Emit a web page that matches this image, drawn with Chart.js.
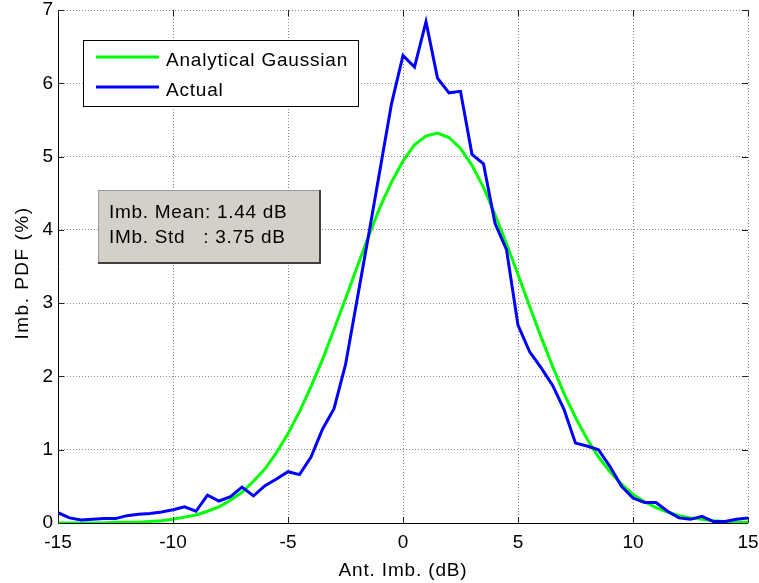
<!DOCTYPE html>
<html>
<head>
<meta charset="utf-8">
<script src="https://cdn.jsdelivr.net/npm/chart.js"></script>
<style>
  html, body { margin: 0; padding: 0; background: #fff; }
  canvas { display: block; }
</style>
</head>
<body>
<canvas id="pdfChart" width="759" height="583"></canvas>
<script>
const FONT = '"Liberation Sans", Arial, Helvetica, sans-serif';

const binCenters = [
  -15, -14.5, -14, -13.5, -13, -12.5, -12, -11.5, -11, -10.5,
  -10, -9.5, -9, -8.5, -8, -7.5, -7, -6.5, -6, -5.5,
  -5, -4.5, -4, -3.5, -3, -2.5, -2, -1.5, -1, -0.5,
  0, 0.5, 1, 1.5, 2, 2.5, 3, 3.5, 4, 4.5,
  5, 5.5, 6, 6.5, 7, 7.5, 8, 8.5, 9, 9.5,
  10, 10.5, 11, 11.5, 12, 12.5, 13, 13.5, 14, 14.5, 15
];

const gaussianPdf = [
  0.00, 0.00, 0.00, 0.00, 0.00, 0.01, 0.01, 0.01, 0.02, 0.03,
  0.05, 0.08, 0.11, 0.16, 0.22, 0.31, 0.42, 0.57, 0.74, 0.96,
  1.22, 1.52, 1.86, 2.23, 2.64, 3.06, 3.49, 3.91, 4.31, 4.65,
  4.94, 5.16, 5.28, 5.32, 5.26, 5.11, 4.88, 4.58, 4.21, 3.81,
  3.39, 2.96, 2.54, 2.14, 1.77, 1.44, 1.15, 0.90, 0.70, 0.53,
  0.39, 0.29, 0.21, 0.15, 0.10, 0.07, 0.05, 0.03, 0.02, 0.01, 0.01
];

const actualPdf = [
  0.14, 0.07, 0.04, 0.05, 0.06, 0.06, 0.10, 0.12, 0.13, 0.15,
  0.18, 0.22, 0.16, 0.38, 0.30, 0.36, 0.49, 0.37, 0.51, 0.60,
  0.70, 0.66, 0.90, 1.28, 1.56, 2.16, 3.04, 3.92, 4.82, 5.72,
  6.38, 6.22, 6.84, 6.07, 5.87, 5.89, 5.03, 4.90, 4.09, 3.73,
  2.70, 2.34, 2.12, 1.88, 1.55, 1.09, 1.05, 1.00, 0.77, 0.50,
  0.34, 0.28, 0.28, 0.16, 0.07, 0.05, 0.09, 0.02, 0.02, 0.05, 0.07
];

const seriesNames = ["Analytical Gaussian", "Actual"];
const statLines = ["Imb. Mean: 1.44 dB", "IMb. Std   : 3.75 dB"];
const xTitle = "Ant. Imb. (dB)";
const yTitle = "Imb. PDF (%)";

const toPoints = (ys) => binCenters.map((x, i) => ({ x: x, y: ys[i] }));

// axes lines, inside ticks, axis titles, legend and the stats textbox
const overlay = {
  id: "overlay",
  afterDraw(chart) {
    const ctx = chart.ctx;
    const { left, right, top, bottom } = chart.chartArea;
    const xs = chart.scales.x, ys = chart.scales.y;
    ctx.save();

    ctx.strokeStyle = "#000";
    ctx.lineWidth = 1;
    ctx.beginPath();
    ctx.moveTo(left + 0.5, top);
    ctx.lineTo(left + 0.5, bottom + 0.5);
    ctx.lineTo(right, bottom + 0.5);
    ctx.stroke();

    ctx.strokeStyle = "#222";
    ctx.beginPath();
    xs.ticks.forEach((t) => {
      const px = Math.round(xs.getPixelForValue(t.value)) + 0.5;
      ctx.moveTo(px, bottom);
      ctx.lineTo(px, bottom - 6);
      ctx.moveTo(px, top);
      ctx.lineTo(px, top + 6);
    });
    ys.ticks.forEach((t) => {
      const py = Math.round(ys.getPixelForValue(t.value)) + 0.5;
      ctx.moveTo(left, py);
      ctx.lineTo(left + 6, py);
      ctx.moveTo(right, py);
      ctx.lineTo(right - 6, py);
    });
    ctx.stroke();

    ctx.fillStyle = "#000";
    ctx.font = "19px " + FONT;
    ctx.textBaseline = "alphabetic";

    // axis titles
    ctx.textAlign = "center";
    ctx.letterSpacing = "0.85px";
    ctx.fillText(xTitle, (left + right) / 2, 576);
    ctx.save();
    ctx.translate(28, 273);
    ctx.rotate(-Math.PI / 2);
    ctx.letterSpacing = "1.5px";
    ctx.fillText(yTitle, 0, 0);
    ctx.restore();

    // legend
    ctx.textAlign = "left";
    ctx.letterSpacing = "0.8px";
    ctx.fillStyle = "#fff";
    ctx.fillRect(83, 40, 275, 66);
    ctx.strokeStyle = "#000";
    ctx.lineWidth = 1;
    ctx.strokeRect(83.5, 40.5, 275, 66);
    ctx.lineWidth = 3;
    ctx.strokeStyle = "#00ff00";
    ctx.beginPath(); ctx.moveTo(96, 57); ctx.lineTo(159, 57); ctx.stroke();
    ctx.strokeStyle = "#0000ff";
    ctx.beginPath(); ctx.moveTo(96, 87); ctx.lineTo(159, 87); ctx.stroke();
    ctx.fillStyle = "#000";
    ctx.fillText(seriesNames[0], 166, 66);
    ctx.fillText(seriesNames[1], 166, 96);

    // stats box
    ctx.fillStyle = "#d4d0c8";
    ctx.fillRect(98, 190, 221, 72);
    ctx.lineWidth = 1;
    ctx.strokeStyle = "#9a9a9a";
    ctx.strokeRect(98.5, 190.5, 221, 72);
    ctx.strokeStyle = "#404040";
    ctx.lineWidth = 2;
    ctx.beginPath();
    ctx.moveTo(320, 190); ctx.lineTo(320, 263); ctx.lineTo(98, 263);
    ctx.stroke();
    ctx.fillStyle = "#000";
    ctx.letterSpacing = "0.7px";
    ctx.fillText(statLines[0], 109, 218);
    ctx.fillText(statLines[1], 109, 243);

    ctx.restore();
  }
};

new Chart(document.getElementById("pdfChart"), {
  type: "line",
  data: {
    datasets: [
      {
        label: seriesNames[1],
        data: toPoints(actualPdf),
        borderColor: "#0000ff",
        borderWidth: 3,
        pointRadius: 0,
        tension: 0,
        fill: false,
        order: 0,
      },
      {
        label: seriesNames[0],
        data: toPoints(gaussianPdf),
        borderColor: "#00ff00",
        borderWidth: 3,
        pointRadius: 0,
        tension: 0,
        fill: false,
        order: 1,
      },
    ],
  },
  options: {
    responsive: false,
    animation: false,
    layout: { padding: { top: 10, right: 11, left: 0, bottom: 0 } },
    plugins: { legend: { display: false }, tooltip: { enabled: false } },
    scales: {
      x: {
        type: "linear",
        min: -15,
        max: 15,
        ticks: { stepSize: 5, color: "#000", font: { family: FONT, size: 19 }, padding: 8, maxRotation: 0 },
        grid: { color: "#8a8a8a", drawTicks: false, lineWidth: 1 },
        border: { display: false, dash: [1, 2] },
        afterFit: (s) => { s.height = 60; s.paddingLeft = 0; s.paddingRight = 0; },
      },
      y: {
        min: 0,
        max: 7,
        ticks: { stepSize: 1, color: "#000", font: { family: FONT, size: 19 }, padding: 5 },
        grid: { color: "#8a8a8a", drawTicks: false, lineWidth: 1 },
        border: { display: false, dash: [1, 2] },
        afterFit: (s) => { s.width = 58; s.paddingTop = 0; s.paddingBottom = 0; },
      },
    },
  },
  plugins: [overlay],
});
</script>
</body>
</html>
